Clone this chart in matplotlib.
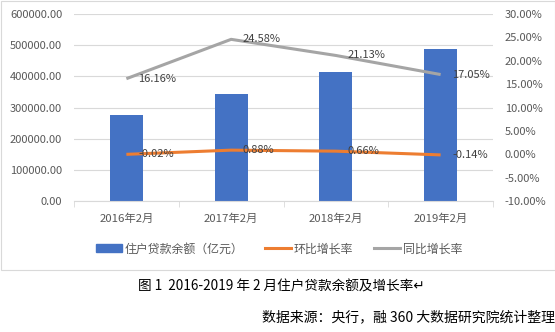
import matplotlib.pyplot as plt
from matplotlib.patches import Rectangle
import numpy as np

plt.rcParams['font.family'] = ['Noto Sans CJK SC', 'DejaVu Sans']

months = ['2016年2月', '2017年2月', '2018年2月', '2019年2月']
balance = [276000, 343300, 414900, 487700]   # 住户贷款余额（亿元）
mom = [-0.02, 0.88, 0.66, -0.14]             # 环比增长率 %
yoy = [16.16, 24.58, 21.13, 17.05]           # 同比增长率 %

blue = '#4472C4'
orange = '#ED7D31'
gray = '#A5A5A5'
txt = '#595959'

W, H = 555, 332
fig = plt.figure(figsize=(W / 100, H / 100), dpi=100)

# chart border
fig.patches.append(Rectangle((0.5 / W, 1 - 269.5 / H), 554 / W, 269 / H,
                             transform=fig.transFigure, fill=False,
                             edgecolor='#D9D9D9', linewidth=0.8))

ax = fig.add_axes([74 / W, 1 - 201 / H, (493 - 74) / W, (201 - 14) / H])
x = np.arange(len(months))
ax.bar(x, balance, width=0.315, color=blue, zorder=2)
ax.set_xlim(-0.5, 3.5)
ax.set_ylim(0, 600000)
ax.set_yticks(np.arange(0, 600001, 100000))
ax.set_yticklabels(['%.2f' % v for v in np.arange(0, 600001, 100000)])
ax.yaxis.grid(True, color='#D9D9D9', linewidth=0.8, zorder=0)
ax.set_xticks(x)
ax.set_xticklabels(months)
ax.set_xticks(np.arange(-0.5, 4, 1), minor=True)
ax.tick_params(axis='x', which='major', length=0, pad=9, labelsize=8.2, colors=txt)
ax.tick_params(axis='x', which='minor', length=4, color='#D9D9D9')
ax.tick_params(axis='y', length=0, labelsize=8, colors=txt, pad=8.5)
for s in ['top', 'right', 'left']:
    ax.spines[s].set_visible(False)
ax.spines['bottom'].set_color('#D9D9D9')

ax2 = ax.twinx()
ax2.plot(x, mom, color=orange, linewidth=2.2, solid_capstyle='butt', zorder=3)
ax2.plot(x, yoy, color=gray, linewidth=2.2, solid_capstyle='butt', zorder=3)
ax2.set_ylim(-10, 30)
ax2.set_yticks(np.arange(-10, 31, 5))
ax2.set_yticklabels(['%.2f%%' % v for v in np.arange(-10, 31, 5)])
ax2.tick_params(axis='y', length=0, labelsize=8, colors=txt, pad=8.5)
for s in ['top', 'right', 'left', 'bottom']:
    ax2.spines[s].set_visible(False)

for xi, v in zip(x, mom):
    ax2.annotate('%.2f%%' % v, (xi, v), xytext=(8.5, 0), textcoords='offset points',
                 ha='left', va='center', fontsize=8, color='#404040', zorder=4)
for xi, v in zip(x, yoy):
    ax2.annotate('%.2f%%' % v, (xi, v), xytext=(8.5, 0), textcoords='offset points',
                 ha='left', va='center', fontsize=8, color='#404040', zorder=4)

handles = [Rectangle((0, 0), 1, 1, color=blue),
           plt.Line2D([], [], color=orange, linewidth=2.2),
           plt.Line2D([], [], color=gray, linewidth=2.2)]
fig.legend(handles, ['住户贷款余额（亿元）', '环比增长率', '同比增长率'],
           loc='center', bbox_to_anchor=(279 / W, 1 - 249 / H), ncol=3,
           frameon=False, fontsize=8.6, labelcolor=txt, handlelength=2.2,
           handleheight=0.6, handletextpad=0.2, columnspacing=1.8)

fig.text(281 / W, 1 - 286 / H, '图 1  2016-2019 年 2 月住户贷款余额及增长率↵',
         ha='center', va='center', fontsize=9.8, color='black')
fig.text(555 / W, 1 - 317 / H, '数据来源：央行，融 360 大数据研究院统计整理',
         ha='right', va='center', fontsize=10, color='black')

fig.savefig('out.png', dpi=100)
